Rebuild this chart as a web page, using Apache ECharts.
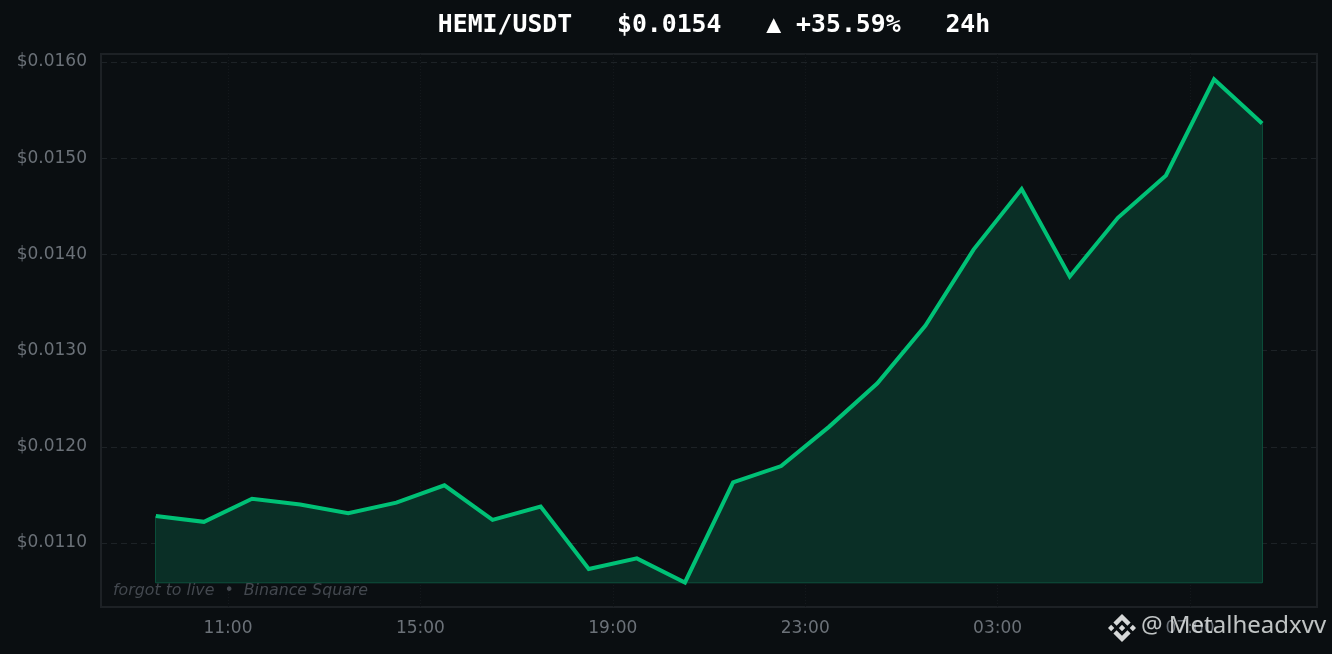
<!DOCTYPE html>
<html>
<head>
<meta charset="utf-8">
<style>html,body{margin:0;padding:0;background:#0a0e11}#c{width:1332px;height:654px}</style>
<script src="https://cdn.jsdelivr.net/npm/echarts@6/dist/echarts.min.js"></script>
</head>
<body>
<div id="c"></div>
<script>
const hours = [9.5,10.5,11.5,12.5,13.5,14.5,15.5,16.5,17.5,18.5,19.5,20.5,21.5,22.5,23.5,24.5,25.5,26.5,27.5,28.5,29.5,30.5,31.5,32.5];
const prices = [0.01128,0.01122,0.01146,0.01140,0.01131,0.01142,0.01160,0.01124,0.01138,0.01073,0.01084,0.01059,0.01163,0.01180,0.01221,0.01266,0.01326,0.01405,0.01468,0.01377,0.01438,0.01482,0.01582,0.01536];
const xTicks = [11,15,19,23,27,31];
const yTicks = [0.011,0.012,0.013,0.014,0.015,0.016];
const titleText = 'HEMI/USDT   $0.0154   ▲ +35.59%   24h';
const creditText = 'forgot to live  •  Binance Square';
const watermarkText = '@ Metalheadxvv';
const floorPrice = Math.min(...prices);
const last = hours.length - 1;
const logoPath = 'M38.73 53.2l24.59-24.58 24.6 24.6 14.3-14.31L63.32 0 24.43 38.9l14.3 14.31zM0 63.31l14.3-14.31 14.31 14.31-14.31 14.3zM38.73 73.41l24.59 24.59 24.6-24.6 14.31 14.29-38.9 38.91-38.91-38.88v-.03zM98 63.31l14.3-14.31 14.31 14.3-14.31 14.32zM77.83 63.3L63.32 48.78 52.59 59.51l-1.24 1.23-2.54 2.54 14.51 14.5 14.51-14.47z';
echarts.graphic.registerShape('binanceLogo', echarts.graphic.extendPath(logoPath, {}));
const logoScale = 28 / 126.61;

const chart = echarts.init(document.getElementById('c'), null, {renderer:'canvas'});
chart.setOption({
  animation:false,
  backgroundColor:'#0a0e11',
  title:{text:titleText,left:709,top:8,textAlign:'center',
    textStyle:{color:'#ffffff',fontFamily:'DejaVu Sans Mono',fontWeight:'bold',fontSize:24.8}},
  grid:{left:101,right:15,top:54,bottom:47,show:true,backgroundColor:'#0b0f12',borderColor:'#1d2125',borderWidth:2,outerBoundsMode:'none'},
  xAxis:{type:'value',min:8.36,max:33.64,
    axisLine:{show:false},
    axisTick:{show:false,customValues:xTicks},
    axisLabel:{customValues:xTicks,color:'#6b7178',fontFamily:'DejaVu Sans',fontSize:17,margin:13,
      formatter:v=>String(v%24).padStart(2,'0')+':00'},
    splitLine:{show:true,lineStyle:{color:'#14181c',width:1,type:[1,2]}}},
  yAxis:{type:'value',min:0.010335,max:0.016083,
    axisLine:{show:false},
    axisTick:{show:false,customValues:yTicks},
    axisLabel:{customValues:yTicks,color:'#6b7178',fontFamily:'DejaVu Sans',fontSize:17,margin:14,
      formatter:v=>'$'+v.toFixed(4)},
    splitLine:{show:true,lineStyle:{color:'#1d2226',width:1,type:[6,4]}}},
  series:[
    {type:'line',name:'edge',silent:true,showSymbol:false,z:3,
      data:[[hours[0],prices[0]],[hours[0],floorPrice],[hours[last],floorPrice],[hours[last],prices[last]]],
      lineStyle:{color:'#0f5a43',width:1.5}},
    {type:'line',name:'HEMI/USDT',silent:true,showSymbol:false,z:4,
      data:hours.map((h,i)=>[h,prices[i]]),
      lineStyle:{color:'#00c176',width:4,cap:'butt',join:'miter'},
      areaStyle:{color:'#0a2f26',opacity:1,origin:floorPrice}}
  ],
  graphic:[
    {type:'text',z:10,x:113,y:583,style:{text:creditText,fill:'#43484f',fontFamily:'DejaVu Sans',fontStyle:'italic',fontSize:15.8}},
    {type:'binanceLogo',z:10,x:1108,y:614,scaleX:logoScale,scaleY:logoScale,style:{fill:'#d6d8d8'}},
    {type:'text',z:10,x:1141,y:614,style:{text:watermarkText,fill:'rgba(225,228,228,0.85)',fontFamily:'Noto Sans',fontSize:24}}
  ]
});
</script>
</body>
</html>
